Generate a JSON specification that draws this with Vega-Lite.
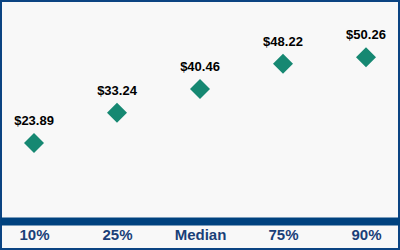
{
  "$schema": "https://vega.github.io/schema/vega-lite/v6.json",
  "width": 400,
  "height": 250,
  "padding": 0,
  "autosize": {"type": "none"},
  "background": "#f8f8f8",
  "config": {
    "view": {"fill": "#f8f8f8", "stroke": "#0b4482", "strokeWidth": 4},
    "font": "Liberation Sans"
  },
  "data": {
    "values": [
      {"pct": "10%", "value": 23.89},
      {"pct": "25%", "value": 33.24},
      {"pct": "Median", "value": 40.46},
      {"pct": "75%", "value": 48.22},
      {"pct": "90%", "value": 50.26}
    ]
  },
  "encoding": {
    "x": {
      "field": "pct",
      "type": "ordinal",
      "sort": null,
      "scale": {"type": "point", "padding": 0.41},
      "axis": {
        "title": null,
        "orient": "bottom",
        "offset": -29,
        "domainColor": "#00427f",
        "domainWidth": 8,
        "ticks": false,
        "grid": false,
        "labelAngle": 0,
        "labelFont": "Liberation Sans",
        "labelFontSize": 15,
        "labelFontWeight": "bold",
        "labelColor": "#1a3f78",
        "labelPadding": 6,
        "labelBaseline": "top"
      }
    },
    "y": {
      "field": "value",
      "type": "quantitative",
      "scale": {"domain": [-8.9, 67.8], "nice": false, "zero": false},
      "axis": null
    }
  },
  "layer": [
    {
      "mark": {"type": "point", "shape": "diamond", "filled": true, "size": 400, "color": "#168872", "opacity": 1}
    },
    {
      "mark": {"type": "text", "dy": -22, "baseline": "middle", "align": "center", "fontSize": 13, "fontWeight": "bold", "color": "#000000", "font": "Liberation Sans"},
      "encoding": {
        "text": {"field": "value", "type": "quantitative", "format": "$.2f"}
      }
    }
  ]
}
